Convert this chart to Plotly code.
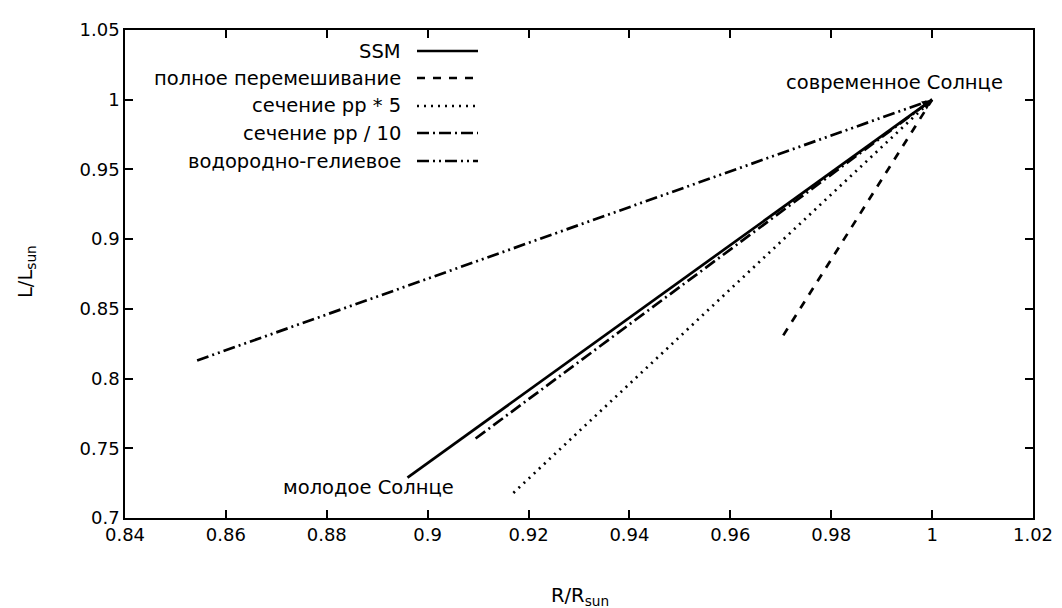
import plotly.graph_objects as go

# Data
names = ["SSM", "полное перемешивание", "сечение pp * 5", "сечение pp / 10", "водородно-гелиевое"]
x_start = [0.896, 0.9705, 0.917, 0.9095, 0.8543]
y_start = [0.729, 0.831, 0.718, 0.757, 0.813]
x_end = [1.0, 1.0, 1.0, 1.0, 1.0]
y_end = [1.0, 1.0, 1.0, 1.0, 1.0]
dashes = ["solid", "8px,8px", "2px,5px", "12px,4px,2px,4px", "12px,4px,2px,4px,2px,4px"]

x_ticks = [0.84, 0.86, 0.88, 0.9, 0.92, 0.94, 0.96, 0.98, 1.0, 1.02]
x_ticktext = ["0.84", "0.86", "0.88", "0.9", "0.92", "0.94", "0.96", "0.98", "1", "1.02"]
y_ticks = [0.7, 0.75, 0.8, 0.85, 0.9, 0.95, 1.0, 1.05]
y_ticktext = ["0.7", "0.75", "0.8", "0.85", "0.9", "0.95", "1", "1.05"]

FONT = "DejaVu Sans"
FS = 19.5
fig = go.Figure()
for i, n in enumerate(names):
    fig.add_trace(go.Scatter(
        x=[x_start[i], x_end[i]], y=[y_start[i], y_end[i]], mode="lines",
        name=n, showlegend=False,
        line=dict(color="black", width=2.7, dash=dashes[i]),
    ))

# gnuplot-style legend (text right, sample on the right)
L, T, W, H = 125, 30, 908, 488
def px(x): return (x - L) / W
def py(y): return (T + H - y) / H
rows = [51, 78, 106, 133, 161]
shapes = []
annotations = []
for i, n in enumerate(names):
    annotations.append(dict(x=px(403), y=py(rows[i]), xref="paper", yref="paper",
                            text=n, showarrow=False, xanchor="right", yanchor="middle",
                            font=dict(family=FONT, size=FS, color="black")))
    shapes.append(dict(type="line", xref="paper", yref="paper",
                       x0=px(417), x1=px(478), y0=py(rows[i]), y1=py(rows[i]),
                       line=dict(color="black", width=2.5, dash=dashes[i])))

annotations.append(dict(x=0.9925, y=1.0125, xref="x", yref="y", text="современное Солнце",
                        showarrow=False, font=dict(family=FONT, size=FS, color="black")))
annotations.append(dict(x=0.8882, y=0.7222, xref="x", yref="y", text="молодое Солнце",
                        showarrow=False, font=dict(family=FONT, size=FS, color="black")))
annotations.append(dict(x=1.0, y=1.0, xref="x", yref="y", text=" ", showarrow=True,
                        ax=-14, ay=10, arrowhead=2, arrowsize=1, arrowwidth=2,
                        arrowcolor="black", standoff=0))
# axis titles
annotations.append(dict(x=px(580), y=py(596), xref="paper", yref="paper",
                        text="R/R<sub>sun</sub>", showarrow=False, xanchor="center", yanchor="middle",
                        font=dict(family=FONT, size=FS, color="black")))
annotations.append(dict(x=px(26), y=py(272), xref="paper", yref="paper",
                        text="L/L<sub>sun</sub>", showarrow=False, xanchor="center", yanchor="middle",
                        textangle=-90, font=dict(family=FONT, size=FS, color="black")))

axis_common = dict(showgrid=False, zeroline=False, showline=True, linecolor="black",
                   linewidth=1.5, mirror="ticks", ticks="inside", ticklen=8,
                   tickcolor="black", tickwidth=1.5, automargin=False,
                   tickfont=dict(family=FONT, size=18, color="black"))

fig.update_layout(
    width=1062, height=608,
    margin=dict(l=125, r=29, t=30, b=90),
    plot_bgcolor="white", paper_bgcolor="white",
    xaxis=dict(range=[0.84, 1.02], tickvals=x_ticks, ticktext=x_ticktext, **axis_common),
    yaxis=dict(range=[0.7, 1.05], tickvals=y_ticks, ticktext=y_ticktext, **axis_common),
    shapes=shapes, annotations=annotations,
)
fig.write_html("out.html")
